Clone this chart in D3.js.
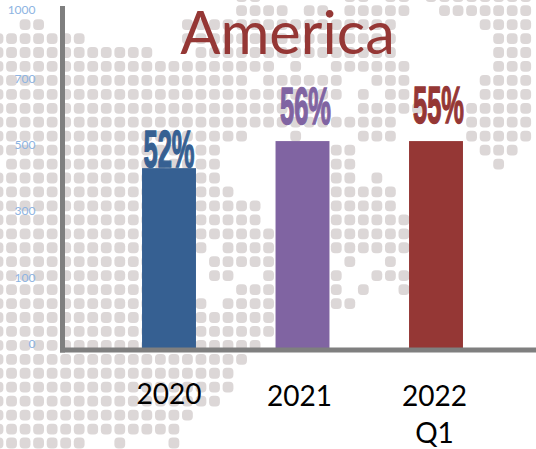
<!DOCTYPE html>
<html>
<head>
<meta charset="utf-8">
<script src="https://cdn.jsdelivr.net/npm/d3@7"></script>
<style>
  html, body { margin: 0; padding: 0; background: #fff; }
  svg { display: block; font-family: Lato, "Noto Sans", sans-serif; }
</style>
</head>
<body>
<div id="chart"></div>
<script>
const WIDTH = 536;
const HEIGHT = 449;

const categories = ['2020', '2021', '2022 Q1'];
const values = [442, 524, 524];
const shares = ['52%', '56%', '55%'];
const barColors = ['#366092', '#8064a2', '#953735'];
const yTicks = [0, 100, 300, 500, 700, 1000];

// background dot map: one list of [firstCol, lastCol] runs for each row
const mapRows = [
  [[18, 19], [26, 27], [29, 30], [32, 39]],
  [[18, 21], [23, 24], [26, 30], [33, 39]],
  [[2, 3], [14, 29], [36, 39]],
  [[0, 6], [14, 29], [37, 39]],
  [[0, 11], [15, 29], [37, 39]],
  [[0, 20], [22, 22], [25, 30], [37, 39]],
  [[0, 18], [20, 25], [28, 30], [36, 39]],
  [[0, 25], [27, 27], [29, 30], [36, 39]],
  [[0, 24], [27, 31], [35, 39]],
  [[0, 29], [35, 39]],
  [[0, 18], [22, 22], [27, 29], [35, 39]],
  [[0, 16], [25, 26], [36, 38]],
  [[1, 16], [25, 26], [37, 37]],
  [[0, 16], [25, 26], [28, 28]],
  [[0, 17], [25, 29]],
  [[0, 19], [25, 29]],
  [[0, 19], [25, 30]],
  [[0, 20], [25, 30]],
  [[0, 15], [17, 20], [25, 30]],
  [[0, 14], [16, 20], [26, 26], [29, 29]],
  [[0, 14], [16, 17], [20, 20], [25, 25], [28, 30]],
  [[0, 14], [18, 20], [25, 25], [27, 27], [30, 30]],
  [[0, 15], [17, 20], [25, 26]],
  [[0, 20]],
  [[0, 20]],
  [[0, 19]],
  [[0, 18]],
  [[0, 17]],
  [[0, 17]],
  [[0, 16]],
  [[0, 14]],
  [[0, 13]],
  [[0, 6], [9, 9], [13, 13]]
];

const svg = d3.select('#chart')
  .append('svg')
    .attr('width', WIDTH)
    .attr('height', HEIGHT);

svg.append('defs')
  .append('filter')
    .attr('id', 'soft')
  .append('feGaussianBlur')
    .attr('stdDeviation', 0.7);

// dot map
const colX = d3.scaleLinear().domain([0, 39]).range([-2, 525.7]);
const rowY = d3.scaleLinear().domain([0, 32]).range([-3.3, 443]);
const DOT = 10.8;

const dots = mapRows.flatMap((runs, r) =>
  runs.flatMap(([a, b]) => d3.range(a, b + 1).map(c => ({ r, c }))));

svg.append('g')
    .attr('filter', 'url(#soft)')
  .selectAll('rect')
  .data(dots)
  .join('rect')
    .attr('x', d => colX(d.c) - DOT / 2)
    .attr('y', d => rowY(d.r) - DOT / 2)
    .attr('width', DOT)
    .attr('height', DOT)
    .attr('rx', 4)
    .attr('fill', '#dcd7d7');

// scales: value axis ticks are evenly spaced though their values are not
const x = d3.scaleBand()
  .domain(categories)
  .range([102.25, 502.75])
  .paddingInner(0.596)
  .paddingOuter(0.298);

const y = d3.scaleLinear()
  .domain(yTicks)
  .range([348, 282, 215, 149, 83, 14]);

// title
svg.append('text')
    .attr('x', 287.5)
    .attr('y', 54)
    .attr('text-anchor', 'middle')
    .attr('font-size', 59.5)
    .attr('fill', '#953735')
    .text('America');

// bars
svg.selectAll('.bar')
  .data(categories)
  .join('rect')
    .attr('class', 'bar')
    .attr('x', d => x(d))
    .attr('y', (d, i) => y(values[i]))
    .attr('width', x.bandwidth())
    .attr('height', (d, i) => y(0) - y(values[i]))
    .attr('fill', (d, i) => barColors[i]);

// share labels, condensed heavy face squeezed like the original
const shareShift = [0, 3, 2.5];
const shareLift = [1, 17, 18];

svg.selectAll('.share')
  .data(categories)
  .join('text')
    .attr('class', 'share')
    .attr('transform', (d, i) =>
      `translate(${x(d) + x.bandwidth() / 2 + shareShift[i]}, ${y(values[i]) - shareLift[i]}) scale(0.5, 1)`)
    .attr('text-anchor', 'middle')
    .attr('font-family', '"Liberation Sans Narrow", "Liberation Sans", sans-serif')
    .attr('font-weight', 700)
    .attr('font-size', 51)
    .attr('fill', (d, i) => barColors[i])
    .attr('stroke', (d, i) => barColors[i])
    .attr('stroke-width', 1.4)
    .text((d, i) => shares[i]);

// value axis
const yAxis = svg.append('g')
    .attr('transform', 'translate(62.5, 0)')
    .call(d3.axisLeft(y).tickValues(yTicks).tickSize(0).tickFormat(d3.format('d')));

yAxis.select('.domain').remove();
yAxis.selectAll('text')
    .attr('x', -27)
    .attr('dy', '-0.02em')
    .attr('font-family', 'Lato, sans-serif')
    .attr('font-size', 12)
    .attr('fill', '#8db4e2');

yAxis.append('line')
    .attr('y1', 6)
    .attr('y2', 352.5)
    .attr('stroke', '#7f7f7f')
    .attr('stroke-width', 5);

// category axis
const catShift = [0, -3, -1.5];
const catDrop = [0, 2, 2];

const xAxis = svg.append('g')
    .attr('transform', 'translate(0, 350)')
    .call(d3.axisBottom(x).tickSize(0));

xAxis.select('.domain').remove();
xAxis.append('line')
    .attr('x1', 60)
    .attr('x2', WIDTH)
    .attr('stroke', '#7f7f7f')
    .attr('stroke-width', 5);

xAxis.selectAll('.tick text')
    .attr('font-family', 'Lato, sans-serif')
    .attr('font-size', 28)
    .attr('fill', '#000')
    .attr('dy', null)
    .attr('y', (d, i) => 54 + catDrop[i])
    .attr('x', (d, i) => catShift[i])
    .each(function (d, i) {
      const parts = d.split(' ');
      const text = d3.select(this).text(null);
      parts.forEach((part, j) => {
        text.append('tspan')
            .attr('x', catShift[i])
            .attr('dy', j ? 37 : 0)
            .text(part);
      });
    });
</script>
</body>
</html>
